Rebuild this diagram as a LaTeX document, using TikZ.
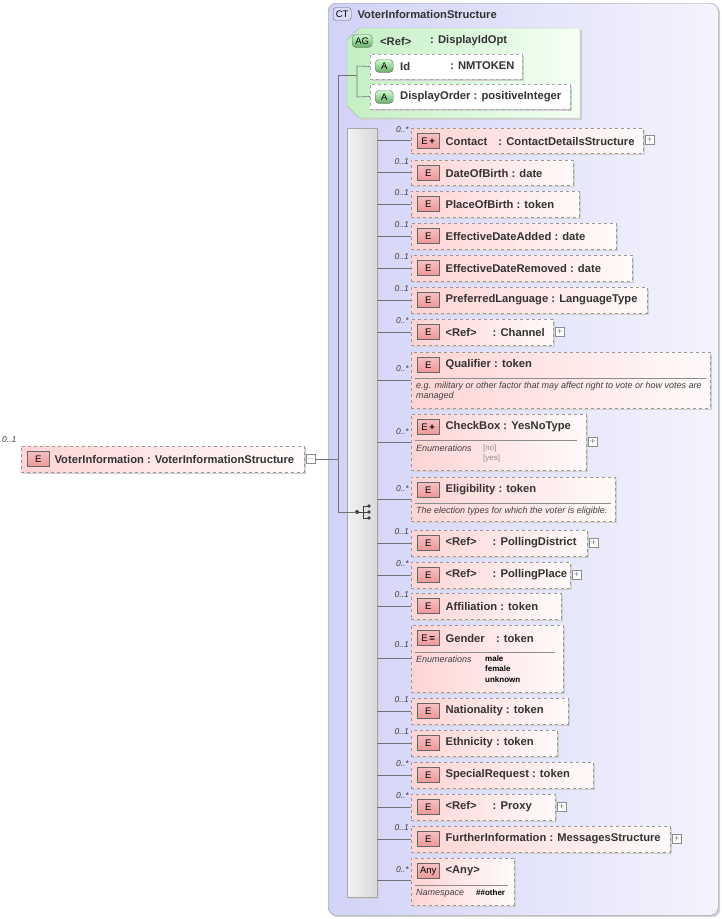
\documentclass[tikz,border=0pt]{standalone}
\usepackage{fontspec}
\setmainfont{Liberation Sans}
\usetikzlibrary{shadows}
\definecolor{pinkL}{RGB}{255,212,212}
\definecolor{pinkR}{RGB}{255,250,250}
\definecolor{badgeR}{RGB}{240,150,150}
\definecolor{ctL}{RGB}{210,210,248}
\definecolor{ctR}{RGB}{244,244,253}
\definecolor{agL}{RGB}{195,240,195}
\definecolor{agR}{RGB}{245,255,245}
\tikzset{
  shd/.style={drop shadow={shadow xshift=2pt,shadow yshift=-2pt,fill=black!18,opacity=1}},
  elbox/.style={shd,draw=black!40,dashed,left color=pinkL,right color=pinkR,anchor=north west,inner sep=0,outer sep=0},
  atbox/.style={shd,draw=black!35,dashed,fill=white,anchor=north west,inner sep=0,outer sep=0},
  ebadge/.style={draw=black!60,top color=badgeR!60,bottom color=badgeR,anchor=west,minimum width=22,minimum height=15,inner sep=1.5,font=\fontsize{9.5}{10}\selectfont},
  abadge/.style={draw=black!60,top color=green!20,bottom color=green!45!black!60!white,rounded corners=4,anchor=west,minimum width=18,minimum height=13,inner sep=1,font=\fontsize{9.5}{10}\selectfont},
  lbl/.style={anchor=west,inner sep=0,font=\fontsize{11.2}{13}\selectfont\bfseries,text=black!80},
  mult/.style={anchor=east,inner sep=0,font=\fontsize{8.5}{10}\selectfont\itshape,text=black!75},
  desc/.style={anchor=west,inner sep=0,font=\fontsize{9}{10}\selectfont\itshape,text=black!75},
  enum/.style={anchor=west,inner sep=0,font=\fontsize{8}{9}\selectfont\bfseries},
  conn/.style={draw=black!55,line width=0.6},
  plusbox/.style={draw=black!45,fill=white,minimum size=9,inner sep=0,anchor=west,font=\fontsize{9}{9}\selectfont,text=black!50},
  sep/.style={draw=black!45,line width=0.6},
}
\newcommand\El[8]{%
  \node[elbox,minimum width={#4-411},minimum height={#3-#2}] (#1) at (411,#2) {};
  \node[ebadge] (#1b) at (417,#2+13) {#5};
  \node[lbl] at ([xshift=6]#1b.east) {#6};
  \node[mult] at (409,#2+2) {#7};
  \draw[conn] (seq.east |- 0,#8) -- (#1.west |- 0,#8);
}
\newcommand\Plus[2]{\node[plusbox] (#1p) at ([xshift=2]#1.east |- 0,#2) {+};}
\newcommand\RefGap{\hspace{16pt}}
\begin{document}
\begin{tikzpicture}[x=1pt,y=-1pt]
\useasboundingbox (0,0) rectangle (722,919);
\fill[white] (0,0) rectangle (722,919);
% CT container
\node[shd,draw=black!40,rounded corners=8,left color=ctL,right color=ctR,anchor=north west,minimum width=390,minimum height=912,inner sep=0] (ct) at (328,3) {};
\node[draw=black!60,fill=ctL!80,rounded corners=3,anchor=west,minimum width=18,minimum height=13,inner sep=1,font=\fontsize{9.5}{10}\selectfont] (ctb) at (333,14) {CT};
\node[lbl] at ([xshift=6]ctb.east) {VoterInformationStructure};
% AG
\path[shd,draw=black!30,left color=agL,right color=agR] (359,28) -- (580,28) -- (580,118) -- (359,118) -- (347,106) -- (347,40) -- cycle;
\node[abadge,minimum width=20] (agb) at (352,41) {AG};
\node[lbl] at (380,41) {<Ref>};
\node[lbl] at (430,41) {: DisplayIdOpt};
\node[atbox,minimum width=152,minimum height=25] (aid) at (370,54) {};
\node[abadge] (aidb) at (375,66) {A};
\node[lbl] at (400,66) {Id};
\node[lbl] at (450,66) {: NMTOKEN};
\node[atbox,minimum width=200,minimum height=25] (ado) at (370,84) {};
\node[abadge] (adob) at (375,97) {A};
\node[lbl] at (400,97) {DisplayOrder : positiveInteger};
\coordinate (agj) at (357,75);
\draw[conn] (338,75) -- (agj);
\draw[conn] (aid.west) -- (357,66) -- (357,97) -- (ado.west);
% sequence bar
\node[shd,draw=black!35,left color=black!5,right color=black!15,anchor=north west,minimum width=30,minimum height=769,inner sep=0] (seq) at (347,128) {};
% seq icon
\coordinate (sq) at (357,512);
\fill[black!75] (sq) circle (2);
\draw[black!75,line width=0.8] (sq) -- (363,512) (363,506) -- (363,518) (363,506) -- (369,506) (363,518) -- (369,518) (363,512)--(369,512);
\fill[black!75] (369,506) circle (1.8) (369,512) circle (1.8) (369,518) circle (1.8);
% main element
\node[elbox,minimum width=283,minimum height=26] (main) at (21,446) {};
\node[ebadge] (mainb) at (27,459) {E};
\node[lbl] at ([xshift=5]mainb.east) {VoterInformation : VoterInformationStructure};
\node[mult,anchor=west] at (2,440) {0..1};
\node[plusbox] (mainp) at (306,459) {$-$};
\draw[conn] (mainp.east) -- (338,459);
\draw[conn] (338,75) -- (338,512) -- (sq);
% children
\El{c1}{128}{153}{643}{E\,\textbf{+}}{Contact\quad: ContactDetailsStructure}{0..*}{140}\Plus{c1}{140}
\El{c2}{160}{185}{573}{E}{DateOfBirth : date}{0..1}{172}
\El{c3}{191}{217}{579}{E}{PlaceOfBirth : token}{0..1}{204}
\El{c4}{223}{249}{616}{E}{EffectiveDateAdded : date}{0..1}{236}
\El{c5}{255}{281}{632}{E}{EffectiveDateRemoved : date}{0..1}{268}
\El{c6}{287}{313}{647}{E}{PreferredLanguage : LanguageType}{0..1}{300}
\El{c7}{319}{345}{553}{E}{<Ref>\RefGap: Channel}{0..*}{332}\Plus{c7}{332}
\El{c8}{352}{408}{710}{E}{Qualifier : token}{}{380}
\node[mult] at (409,369) {0..*};
\draw[sep] (415,378) -- (706,378);
\node[desc] at (416,386) {e.g. military or other factor that may affect right to vote or how votes are};
\node[desc] at (416,396) {managed};
\El{c9}{414}{470}{586}{E\,\textbf{+}}{CheckBox : YesNoType}{}{442}\Plus{c9}{442}
\node[mult] at (409,432) {0..*};
\draw[sep] (415,440) -- (577,440);
\node[desc] at (416,448) {Enumerations};
\node[desc,font=\fontsize{8}{9}\selectfont,text=black!45] at (483,448) {[no]};
\node[desc,font=\fontsize{8}{9}\selectfont,text=black!45] at (483,458) {[yes]};
\El{c10}{477}{521}{615}{E}{Eligibility : token}{}{499}
\node[mult] at (409,489) {0..*};
\draw[sep] (415,503) -- (611,503);
\node[desc] at (416,511) {The election types for which the voter is eligible.};
\El{c11}{530}{556}{587}{E}{<Ref>\RefGap: PollingDistrict}{0..1}{543}\Plus{c11}{543}
\El{c12}{562}{588}{570}{E}{<Ref>\RefGap: PollingPlace}{0..*}{575}\Plus{c12}{575}
\El{c13}{593}{619}{561}{E}{Affiliation : token}{0..1}{606}
\El{c14}{625}{692}{563}{E\,\textbf{=}}{Gender\quad: token}{}{658}
\node[mult] at (409,645) {0..1};
\draw[sep] (415,652) -- (555,652);
\node[desc] at (416,659) {Enumerations};
\node[enum] at (485,659) {male};
\node[enum] at (485,669) {female};
\node[enum] at (485,680) {unknown};
\El{c15}{698}{724}{568}{E}{Nationality : token}{0..1}{711}
\El{c16}{730}{756}{557}{E}{Ethnicity : token}{0..1}{743}
\El{c17}{762}{788}{593}{E}{SpecialRequest : token}{0..*}{775}
\El{c18}{794}{820}{555}{E}{<Ref>\RefGap: Proxy}{0..*}{807}\Plus{c18}{807}
\El{c19}{826}{852}{670}{E}{FurtherInformation : MessagesStructure}{0..1}{839}\Plus{c19}{839}
\El{c20}{858}{905}{514}{Any}{<Any>}{}{880}
\node[mult] at (409,870) {0..*};
\draw[sep] (415,885) -- (508,885);
\node[desc] at (416,893) {Namespace};
\node[enum] at (476,893) {\#\#other};
\end{tikzpicture}
\end{document}
